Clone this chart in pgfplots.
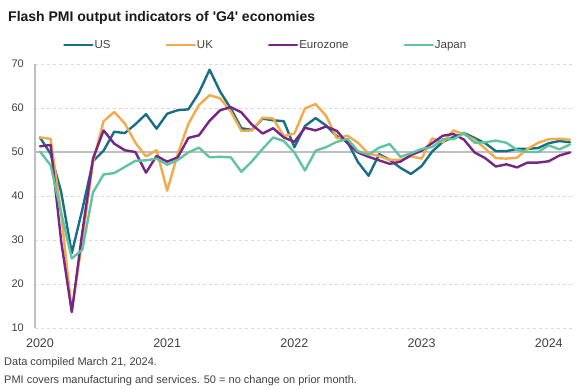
\documentclass[border=0pt]{standalone}
\usepackage{fontspec}
\setmainfont{Liberation Sans}
\usepackage{pgfplots}
\usepackage{pgfplotstable}
\pgfplotsset{compat=1.18}
\definecolor{cUS}{RGB}{24,110,134}
\definecolor{cUK}{RGB}{243,170,76}
\definecolor{cEZ}{RGB}{120,38,132}
\definecolor{cJP}{RGB}{96,196,162}
\definecolor{txt}{RGB}{64,64,64}
\definecolor{gridc}{RGB}{217,217,217}
\definecolor{axc}{RGB}{191,191,191}

\pgfplotstableread{
i US UK EZ JP
0 53.3 53.3 51.3 50.1
1 49.6 53.0 51.6 47.0
2 40.9 36.0 29.7 36.2
3 27.0 13.8 13.6 25.8
4 37.0 30.0 31.9 27.8
5 47.9 47.7 48.5 40.8
6 50.3 57.0 54.9 44.9
7 54.6 59.1 51.9 45.2
8 54.3 56.5 50.4 46.6
9 56.3 52.1 50.0 48.0
10 58.6 49.0 45.3 48.1
11 55.3 50.4 49.1 48.5
12 58.7 41.2 47.8 47.1
13 59.5 49.6 48.8 48.2
14 59.7 56.4 53.2 49.9
15 63.5 60.7 53.8 51.0
16 68.7 62.9 57.1 48.8
17 63.7 62.2 59.5 48.9
18 59.9 59.2 60.2 48.8
19 55.4 54.8 59.0 45.5
20 55.0 54.9 56.2 47.9
21 57.6 57.8 54.2 50.7
22 57.2 57.6 55.4 53.3
23 57.0 53.6 53.3 52.5
24 51.1 54.2 52.3 49.9
25 55.9 59.9 55.5 45.8
26 57.7 60.9 54.9 50.3
27 56.0 58.2 55.8 51.1
28 53.6 53.1 54.8 52.3
29 52.3 53.7 52.0 53.0
30 47.7 52.1 49.9 50.2
31 44.6 49.6 48.9 49.4
32 49.5 49.1 48.1 51.0
33 48.2 48.2 47.3 51.8
34 46.4 48.2 47.8 48.9
35 45.0 49.0 49.3 49.7
36 46.8 48.5 50.3 50.7
37 50.1 53.1 52.0 51.1
38 52.3 52.2 53.7 52.9
39 53.4 54.9 54.1 52.9
40 54.3 54.0 52.8 54.3
41 53.2 52.8 49.9 52.1
42 52.0 50.8 48.6 52.2
43 50.2 48.6 46.7 52.6
44 50.2 48.5 47.2 52.1
45 50.7 48.7 46.5 50.5
46 50.7 50.7 47.6 50.0
47 50.9 52.1 47.6 50.0
48 52.0 52.9 47.9 51.5
49 52.5 53.0 49.2 50.6
50 52.2 52.8 49.9 51.7
}\pmidata

\begin{document}
\begin{tikzpicture}
\path[use as bounding box] (0,0) rectangle (582pt,390pt);
\node[anchor=base west, inner sep=0pt, font=\fontsize{14}{16}\selectfont\bfseries, text=black!90] at (8pt,368pt) {Flash PMI output indicators of \textquotesingle G4\textquotesingle\ economies};
\node[anchor=base west, inner sep=0pt, font=\fontsize{11}{12}\selectfont, text=txt] at (4pt,24pt) {Data compiled March 21, 2024.};
\node[anchor=base west, inner sep=0pt, font=\fontsize{11}{12}\selectfont, text=txt] at (4pt,6pt) {PMI covers manufacturing and services. 50 = no change on prior month.};
\begin{axis}[
  at={(35pt,62pt)}, anchor=south west,
  scale only axis, width=537pt, height=264pt,
  xmin=-0.47, xmax=50.19, ymin=10, ymax=70,
  axis lines*=left,
  x axis line style={draw=none},
  y axis line style={draw=axc, line width=1.2pt},
  major tick length=0pt,
  ytick={10,20,30,40,60,70},
  extra y ticks={50},
  extra y tick style={grid style={solid, draw=axc, line width=1.2pt}},
  ymajorgrids,
  grid style={dashed, draw=gridc, line width=0.8pt},
  xtick={0,12,24,36,48},
  xticklabels={2020,2021,2022,2023,2024},
  /pgf/number format/assume math mode=true,
  yticklabel style={anchor=east, inner sep=0pt, xshift=-11pt, font=\fontsize{11}{12}\selectfont, text=txt},
  xticklabel style={anchor=base, inner sep=0pt, yshift=-19.7pt, font=\fontsize{12.5}{14}\selectfont, text=txt},
  legend columns=4,
  legend style={draw=none, fill=none, at={(axis description cs:0.0521,1.072)}, anchor=west, inner sep=0pt,
    font=\fontsize{11.5}{13}\selectfont, text=txt,
    nodes={inner sep=1pt},
    /tikz/every even column/.append style={column sep=54pt}},
  legend image code/.code={\draw[#1] (0pt,0pt) -- (28pt,0pt);},
  every axis plot/.append style={line width=2.4pt, line join=round, line cap=round},
]
\addplot[cUS] table[x=i, y=US] {\pmidata};
\addlegendentry{US}
\addplot[cUK] table[x=i, y=UK] {\pmidata};
\addlegendentry{UK}
\addplot[cEZ] table[x=i, y=EZ] {\pmidata};
\addlegendentry{Eurozone}
\addplot[cJP] table[x=i, y=JP] {\pmidata};
\addlegendentry{Japan}
\end{axis}
\end{tikzpicture}
\end{document}
